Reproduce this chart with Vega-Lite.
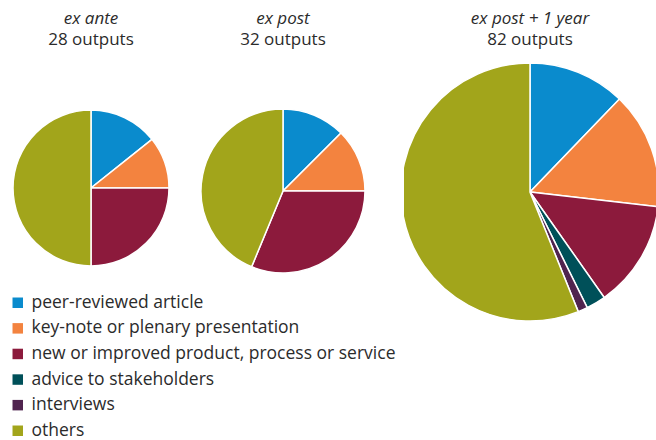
{
  "$schema": "https://vega.github.io/schema/vega-lite/v6.json",
  "background": "white",
  "padding": {"left": 9, "top": 10, "right": 0, "bottom": 0},
  "data": {
    "values": [
      {"period": "ex ante", "category": "peer-reviewed article", "rank": 1, "outputs": 4},
      {"period": "ex ante", "category": "key-note or plenary presentation", "rank": 2, "outputs": 3},
      {"period": "ex ante", "category": "new or improved product, process or service", "rank": 3, "outputs": 7},
      {"period": "ex ante", "category": "others", "rank": 6, "outputs": 14},
      {"period": "ex post", "category": "peer-reviewed article", "rank": 1, "outputs": 4},
      {"period": "ex post", "category": "key-note or plenary presentation", "rank": 2, "outputs": 4},
      {"period": "ex post", "category": "new or improved product, process or service", "rank": 3, "outputs": 10},
      {"period": "ex post", "category": "others", "rank": 6, "outputs": 14},
      {"period": "ex post + 1 year", "category": "peer-reviewed article", "rank": 1, "outputs": 10},
      {"period": "ex post + 1 year", "category": "key-note or plenary presentation", "rank": 2, "outputs": 12},
      {"period": "ex post + 1 year", "category": "new or improved product, process or service", "rank": 3, "outputs": 11},
      {"period": "ex post + 1 year", "category": "advice to stakeholders", "rank": 4, "outputs": 2},
      {"period": "ex post + 1 year", "category": "interviews", "rank": 5, "outputs": 1},
      {"period": "ex post + 1 year", "category": "others", "rank": 6, "outputs": 46}
    ]
  },
  "spacing": 10,
  "bounds": "flush",
  "resolve": {"scale": {"color": "shared"}, "legend": {"color": "shared"}},
  "hconcat": [
    {
      "title": {"text": "ex ante", "subtitle": "28 outputs"},
      "width": 142,
      "height": 258,
      "transform": [{"filter": "datum.period === 'ex ante'"}],
      "mark": {"type": "arc", "outerRadius": 78, "stroke": "white", "strokeWidth": 1.5},
      "encoding": {
        "theta": {"field": "outputs", "type": "quantitative", "stack": true},
        "order": {"field": "rank", "type": "quantitative"},
        "color": {"field": "category", "type": "nominal", "scale": {"domain": ["peer-reviewed article", "key-note or plenary presentation", "new or improved product, process or service", "advice to stakeholders", "interviews", "others"], "range": ["#0A8BCD", "#F3833F", "#8C1A3C", "#005059", "#50244F", "#A2A51B"]}, "legend": {"title": null, "orient": "none", "legendX": -11, "legendY": 235}}
      }
    },
    {
      "title": {"text": "ex post", "subtitle": "32 outputs"},
      "width": 222,
      "height": 264,
      "transform": [{"filter": "datum.period === 'ex post'"}],
      "mark": {"type": "arc", "outerRadius": 82, "stroke": "white", "strokeWidth": 1.5},
      "encoding": {
        "theta": {"field": "outputs", "type": "quantitative", "stack": true},
        "order": {"field": "rank", "type": "quantitative"},
        "color": {"field": "category", "type": "nominal", "scale": {"domain": ["peer-reviewed article", "key-note or plenary presentation", "new or improved product, process or service", "advice to stakeholders", "interviews", "others"], "range": ["#0A8BCD", "#F3833F", "#8C1A3C", "#005059", "#50244F", "#A2A51B"]}, "legend": {"title": null, "orient": "none", "legendX": -11, "legendY": 235}}
      }
    },
    {
      "title": {"text": "ex post + 1 year", "subtitle": "82 outputs"},
      "width": 252,
      "height": 266,
      "transform": [{"filter": "datum.period === 'ex post + 1 year'"}],
      "mark": {"type": "arc", "outerRadius": 129, "stroke": "white", "strokeWidth": 1.5, "clip": true},
      "encoding": {
        "theta": {"field": "outputs", "type": "quantitative", "stack": true},
        "order": {"field": "rank", "type": "quantitative"},
        "color": {"field": "category", "type": "nominal", "scale": {"domain": ["peer-reviewed article", "key-note or plenary presentation", "new or improved product, process or service", "advice to stakeholders", "interviews", "others"], "range": ["#0A8BCD", "#F3833F", "#8C1A3C", "#005059", "#50244F", "#A2A51B"]}, "legend": {"title": null, "orient": "none", "legendX": -11, "legendY": 235}}
      }
    }
  ],
  "config": {
    "view": {"stroke": null},
    "font": "Open Sans",
    "title": {"font": "Open Sans", "fontSize": 17, "fontStyle": "italic", "fontWeight": "normal", "color": "#2b2b2b", "subtitleFont": "Open Sans", "subtitleFontSize": 17, "subtitleFontStyle": "normal", "subtitleColor": "#2b2b2b", "subtitlePadding": 4, "anchor": "middle", "offset": 10},
    "legend": {"labelFont": "Open Sans", "labelFontSize": 17.5, "labelColor": "#2b2b2b", "symbolType": "square", "symbolSize": 110, "symbolStrokeWidth": 0, "symbolOpacity": 1, "labelOffset": 5, "rowPadding": 6.6, "padding": 0, "labelLimit": 500}
  }
}
